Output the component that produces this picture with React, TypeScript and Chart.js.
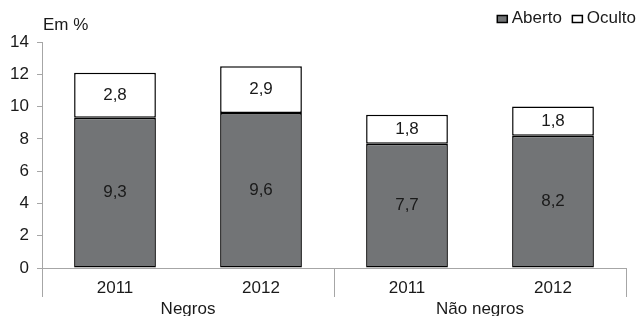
import React, { useEffect, useRef } from "react";
import { Chart, registerables } from "chart.js";

Chart.register(...registerables);

const yearLabels = ["2011", "2012", "2011", "2012"];
const groupLabels = ["Negros", "Não negros"];
const aberto = [9.3, 9.6, 7.7, 8.2];
const oculto = [2.8, 2.9, 1.8, 1.8];
const seriesNames = ["Aberto", "Oculto"];
const unitLabel = "Em %";

const FONT = "'Liberation Sans', Arial, sans-serif";
const FS = 17;
const TEXT = "#1a1a1a";
const AXIS = "#a6a6a6";

const fmt = (v: number) => v.toFixed(1).replace(".", ",");

const extrasPlugin = {
  id: "extras",
  afterDraw(chart: any) {
    const ctx = chart.ctx;
    const area = chart.chartArea;
    const xs = chart.scales.x;
    ctx.save();
    // data labels
    ctx.font = `${FS}px ${FONT}`;
    ctx.fillStyle = TEXT;
    ctx.textAlign = "center";
    ctx.textBaseline = "middle";
    chart.data.datasets.forEach((ds: any, di: number) => {
      const meta = chart.getDatasetMeta(di);
      meta.data.forEach((bar: any, i: number) => {
        const c = bar.getCenterPoint();
        ctx.fillText(fmt(ds.data[i]), c.x, c.y);
      });
    });
    // group dividers
    ctx.strokeStyle = AXIS;
    ctx.lineWidth = 1;
    const n = yearLabels.length;
    const step = (area.right - area.left) / n;
    const divs = [area.left, area.left + step * 2, area.right];
    divs.forEach((x) => {
      const xx = Math.round(x) + 0.5;
      ctx.beginPath();
      ctx.moveTo(xx, area.bottom);
      ctx.lineTo(xx, area.bottom + 29);
      ctx.stroke();
    });
    // group labels
    ctx.fillStyle = TEXT;
    groupLabels.forEach((g, gi) => {
      const cx = (xs.getPixelForValue(gi * 2) + xs.getPixelForValue(gi * 2 + 1)) / 2;
      ctx.fillText(g, cx, area.bottom + 41);
    });
    // unit label
    ctx.textAlign = "left";
    ctx.fillText(unitLabel, area.left + 1, 25);
    // legend (right aligned)
    const colors = chart.data.datasets.map((d: any) => d.backgroundColor);
    const boxW = 10;
    const gap = 5;
    const itemGap = 10;
    const widths = seriesNames.map((nm) => boxW + gap + ctx.measureText(nm).width);
    const total = widths.reduce((a, b) => a + b, 0) + itemGap * (seriesNames.length - 1);
    let x = 636 - total;
    const y = 18;
    seriesNames.forEach((name, i) => {
      ctx.fillStyle = colors[i];
      ctx.fillRect(x + 0.5, y - 2.5, boxW, 7);
      ctx.strokeStyle = "#000";
      ctx.lineWidth = 1.5;
      ctx.strokeRect(x + 0.5, y - 2.5, boxW, 7);
      ctx.fillStyle = TEXT;
      ctx.textAlign = "left";
      ctx.fillText(name, x + boxW + gap, y);
      x += widths[i] + itemGap;
    });
    ctx.restore();
  },
};

export default function App() {
  const ref = useRef<HTMLCanvasElement | null>(null);
  useEffect(() => {
    if (!ref.current) return;
    const chart = new Chart(ref.current, {
      type: "bar",
      data: {
        labels: yearLabels,
        datasets: [
          {
            label: seriesNames[0],
            data: aberto,
            backgroundColor: "#727476",
            borderColor: "#000",
            borderWidth: 1.5,
            borderSkipped: false,
            barPercentage: 0.56,
            categoryPercentage: 1,
          },
          {
            label: seriesNames[1],
            data: oculto,
            backgroundColor: "#ffffff",
            borderColor: "#000",
            borderWidth: 1.5,
            borderSkipped: false,
            barPercentage: 0.56,
            categoryPercentage: 1,
          },
        ],
      },
      options: {
        animation: false,
        responsive: true,
        maintainAspectRatio: false,
        layout: { padding: { top: 42, right: 11, left: 0, bottom: 0 } },
        plugins: {
          legend: { display: false },
          tooltip: { enabled: false },
        },
        scales: {
          x: {
            stacked: true,
            grid: { display: false, drawTicks: false },
            border: { display: true, color: AXIS, width: 1 },
            ticks: { color: TEXT, font: { family: FONT, size: FS }, padding: 10 },
            afterFit: (s: any) => {
              s.height = 48;
            },
          },
          y: {
            stacked: true,
            min: 0,
            max: 14,
            ticks: { stepSize: 2, color: TEXT, font: { family: FONT, size: FS }, padding: 8 },
            grid: { drawOnChartArea: false, drawTicks: true, tickLength: 5, color: AXIS },
            border: { display: true, color: AXIS, width: 1 },
            afterFit: (s: any) => {
              s.width = 42;
            },
          },
        },
      },
      plugins: [extrasPlugin],
    });
    return () => chart.destroy();
  }, []);
  return (
    <div style={{ position: "fixed", left: 0, top: 0, width: 637, height: 316, background: "#fff" }}>
      <canvas ref={ref} />
    </div>
  );
}
